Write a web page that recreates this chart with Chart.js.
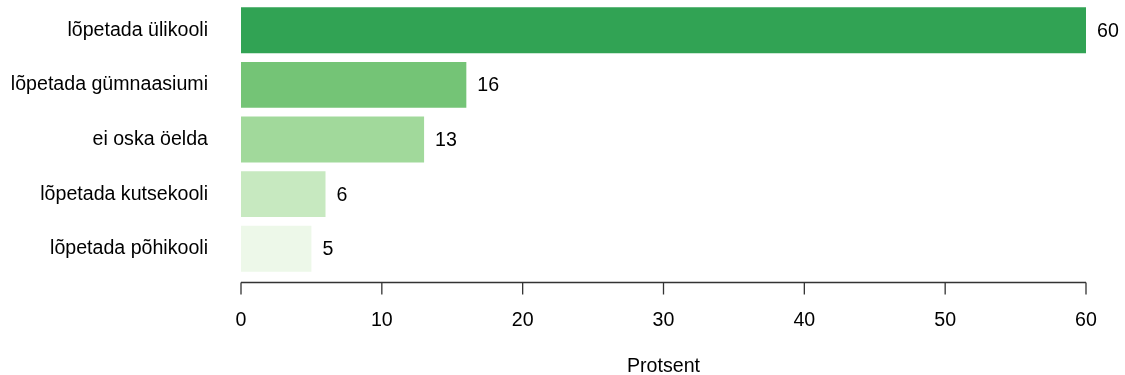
<!DOCTYPE html>
<html>
<head>
<meta charset="utf-8">
<script src="https://cdn.jsdelivr.net/npm/chart.js@4/dist/chart.umd.min.js"></script>
<style>
  html, body { margin: 0; padding: 0; background: #fff; }
  #wrap { width: 1125px; height: 375px; }
</style>
</head>
<body>
<div id="wrap"><canvas id="chart" width="1125" height="375"></canvas></div>
<script>
const categories = ['lõpetada ülikooli', 'lõpetada gümnaasiumi', 'ei oska öelda', 'lõpetada kutsekooli', 'lõpetada põhikooli'];
const values = [60, 16, 13, 6, 5];
const barColors = ['#31a354', '#74c476', '#a1d99b', '#c7e9c0', '#edf8e9'];
const xTicks = [0, 10, 20, 30, 40, 50, 60];
const axisTitle = 'Protsent';

const FONT = 'Liberation Sans, Arial, sans-serif';
const SIZE = 19.6;

// value labels at the end of each bar
const valueLabels = {
  id: 'valueLabels',
  afterDatasetsDraw(chart) {
    const ctx = chart.ctx;
    const meta = chart.getDatasetMeta(0);
    ctx.save();
    ctx.font = SIZE + 'px ' + FONT;
    ctx.fillStyle = '#000';
    ctx.textAlign = 'left';
    ctx.textBaseline = 'middle';
    meta.data.forEach((bar, i) => {
      ctx.fillText(String(values[i]), bar.x + 11, bar.y + 1);
    });
    ctx.restore();
  }
};

// R-style detached x axis line with tick marks
const detachedAxis = {
  id: 'detachedAxis',
  afterDraw(chart) {
    const ctx = chart.ctx;
    const xs = chart.scales.x;
    const y0 = chart.chartArea.bottom + 6.5;
    ctx.save();
    ctx.strokeStyle = '#333';
    ctx.lineWidth = 1.3;
    ctx.beginPath();
    ctx.moveTo(xs.getPixelForValue(xTicks[0]), y0);
    ctx.lineTo(xs.getPixelForValue(xTicks[xTicks.length - 1]), y0);
    xTicks.forEach((t) => {
      const px = xs.getPixelForValue(t);
      ctx.moveTo(px, y0);
      ctx.lineTo(px, y0 + 12);
    });
    ctx.stroke();
    ctx.restore();
  }
};

new Chart(document.getElementById('chart'), {
  type: 'bar',
  data: {
    labels: categories,
    datasets: [{
      data: values,
      backgroundColor: barColors,
      borderWidth: 0,
      barPercentage: 0.84,
      categoryPercentage: 1
    }]
  },
  options: {
    indexAxis: 'y',
    responsive: false,
    animation: false,
    layout: { padding: { top: 3, right: 39, bottom: 0, left: 0 } },
    plugins: { legend: { display: false }, tooltip: { enabled: false } },
    scales: {
      x: {
        min: 0,
        max: 60,
        afterBuildTicks: (scale) => { scale.ticks = xTicks.map((v) => ({ value: v })); },
        afterFit: (scale) => { scale.height = 99; scale.paddingLeft = 0; scale.paddingRight = 0; },
        grid: { display: false, drawTicks: false },
        border: { display: false },
        ticks: { padding: 33, maxRotation: 0, color: '#000', font: { family: FONT, size: SIZE } },
        title: {
          display: true,
          text: axisTitle,
          color: '#000',
          font: { family: FONT, size: SIZE },
          padding: { top: 21, bottom: -3 }
        }
      },
      y: {
        grid: { display: false, drawTicks: false },
        border: { display: false },
        ticks: { padding: 33, color: '#000', font: { family: FONT, size: SIZE } },
        afterFit: (scale) => { scale.width = 241; scale.paddingTop = 0; scale.paddingBottom = 0; }
      }
    }
  },
  plugins: [valueLabels, detachedAxis]
});
</script>
</body>
</html>
